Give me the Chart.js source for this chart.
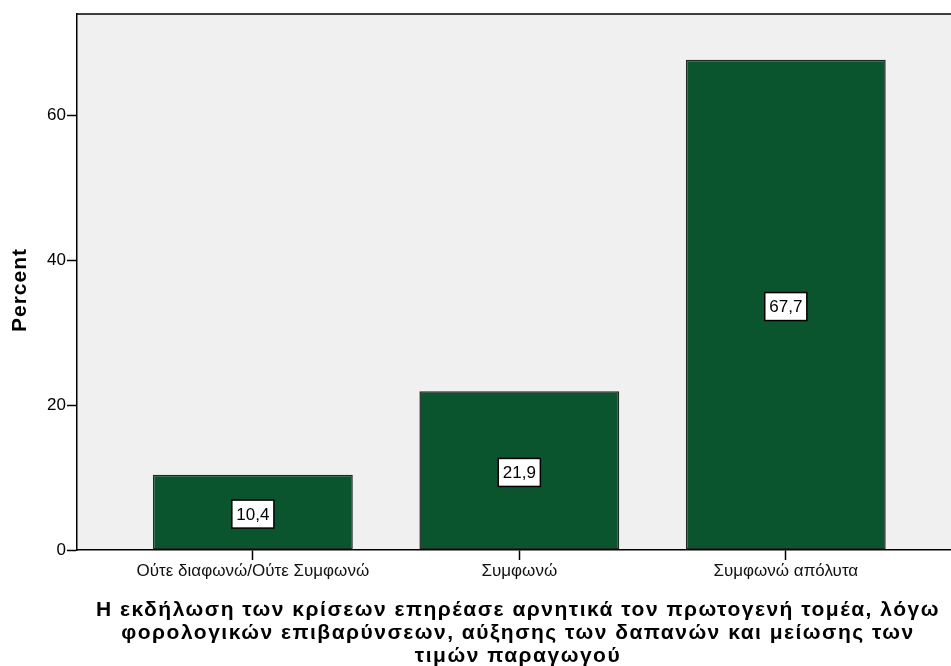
<!DOCTYPE html>
<html>
<head>
<meta charset="utf-8">
<script src="https://cdn.jsdelivr.net/npm/chart.js@4"></script>
<style>
  html, body { margin: 0; padding: 0; background: #fff; }
  #wrap { width: 951px; height: 666px; }
</style>
</head>
<body>
<div id="wrap"><canvas id="barChart" width="951" height="666"></canvas></div>
<script>
const categories = ["Ούτε διαφωνώ/Ούτε Συμφωνώ", "Συμφωνώ", "Συμφωνώ απόλυτα"];
const percents = [10.4, 21.9, 67.7];
const valueLabels = ["10,4", "21,9", "67,7"];
const yTicks = [0, 20, 40, 60];
const xTitle = [
  "Η εκδήλωση των κρίσεων επηρέασε αρνητικά τον πρωτογενή τομέα, λόγω",
  "φορολογικών επιβαρύνσεων, αύξησης των δαπανών και μείωσης των",
  "τιμών παραγωγού"
];
const yTitle = "Percent";

const fontFamily = "'Liberation Sans', Arial, sans-serif";

// grey plot background + top border
const plotBackground = {
  id: "plotBackground",
  beforeDraw(chart) {
    const { ctx, chartArea } = chart;
    ctx.save();
    ctx.fillStyle = "#f0f0f0";
    ctx.fillRect(chartArea.left, chartArea.top, chartArea.right - chartArea.left, chartArea.bottom - chartArea.top);
    ctx.strokeStyle = "#000";
    ctx.lineWidth = 1.5;
    ctx.beginPath();
    ctx.moveTo(chartArea.left, chartArea.top);
    ctx.lineTo(chartArea.right, chartArea.top);
    ctx.stroke();
    ctx.restore();
  }
};

// boxed value labels in the middle of each bar, and the axis titles
const boxLabels = {
  id: "boxLabels",
  afterDatasetsDraw(chart) {
    const { ctx } = chart;
    const meta = chart.getDatasetMeta(0);
    ctx.save();
    ctx.font = "17px " + fontFamily;
    ctx.textAlign = "center";
    ctx.textBaseline = "middle";
    meta.data.forEach((bar, i) => {
      const { x, y, base } = bar.getProps(["x", "y", "base"], true);
      const cy = (y + base) / 2 + 2;
      const text = valueLabels[i];
      const w = ctx.measureText(text).width + 9;
      const h = 28;
      ctx.fillStyle = "#fff";
      ctx.fillRect(x - w / 2, cy - h / 2, w, h);
      ctx.strokeStyle = "#000";
      ctx.lineWidth = 1.5;
      ctx.strokeRect(x - w / 2, cy - h / 2, w, h);
      ctx.fillStyle = "#000";
      ctx.fillText(text, x, cy + 1);
    });
    ctx.restore();
  },
  afterDraw(chart) {
    const { ctx, chartArea } = chart;
    ctx.save();
    ctx.fillStyle = "#000";
    ctx.textAlign = "center";
    ctx.textBaseline = "middle";
    ctx.letterSpacing = "1.5px";
    ctx.font = "bold 21px " + fontFamily;
    const cx = (chartArea.left + chartArea.right) / 2 + 4;
    xTitle.forEach((line, i) => {
      ctx.fillText(line, cx, 610 + i * 23);
    });
    ctx.letterSpacing = "1px";
    ctx.translate(20, (chartArea.top + chartArea.bottom) / 2 + 8);
    ctx.rotate(-Math.PI / 2);
    ctx.fillText(yTitle, 0, 0);
    ctx.restore();
  }
};

new Chart(document.getElementById("barChart").getContext("2d"), {
  type: "bar",
  data: {
    datasets: [{
      data: percents.map((v, i) => ({ x: i, y: v })),
      backgroundColor: "#0b552e",
      borderColor: "#1e2a22",
      borderWidth: 1.5,
      borderSkipped: false,
      barPercentage: 0.75,
      categoryPercentage: 1
    }]
  },
  options: {
    responsive: false,
    animation: false,
    events: [],
    layout: { padding: { top: 14, right: 0, left: 0, bottom: 0 } },
    plugins: {
      legend: { display: false },
      tooltip: { enabled: false }
    },
    scales: {
      x: {
        type: "linear",
        min: -0.66,
        max: 2.62,
        offset: false,
        grid: {
          offset: false,
          drawOnChartArea: false,
          tickLength: 10,
          tickWidth: 1.5,
          color: "#000"
        },
        border: { color: "#000", width: 1.5 },
        ticks: {
          color: "#111",
          font: { family: fontFamily, size: 17 },
          padding: 1,
          maxRotation: 0,
          autoSkip: false,
          callback: (v) => categories[v]
        },
        afterBuildTicks(scale) {
          scale.ticks = categories.map((c, i) => ({ value: i }));
        },
        afterFit(scale) { scale.height = 116; }
      },
      y: {
        min: 0,
        max: 74,
        grid: {
          drawOnChartArea: false,
          tickLength: 10,
          tickWidth: 1.5,
          color: "#000"
        },
        border: { color: "#000", width: 1.5 },
        ticks: {
          color: "#000",
          font: { family: fontFamily, size: 17 },
          padding: 1
        },
        afterBuildTicks(scale) {
          scale.ticks = yTicks.map(v => ({ value: v }));
        },
        afterFit(scale) { scale.width = 77; }
      }
    }
  },
  plugins: [plotBackground, boxLabels]
});
</script>
</body>
</html>
